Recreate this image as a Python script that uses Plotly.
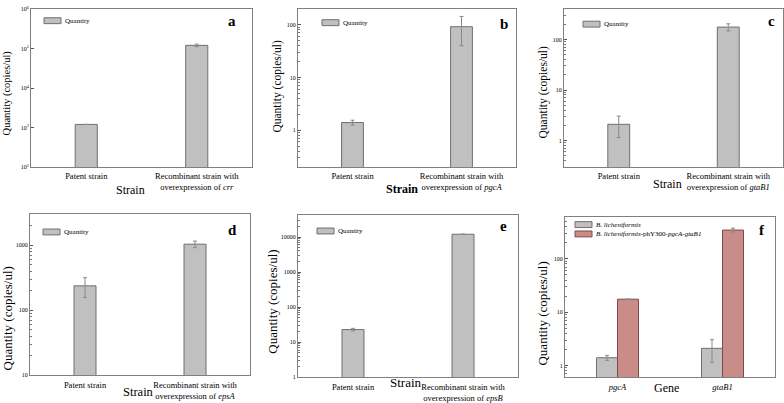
import plotly.graph_objects as go

W, H = 784, 403

# ---------------- data ----------------
strain_keys = ["Patent strain", "Recombinant strain"]
genes_abcde = ["crr", "pgcA", "gtaB1", "epsA", "epsB"]
panel_letters = ["a", "b", "c", "d", "e", "f"]

qty_a = [1200, 120000]
err_a = [0, 9000]
qty_b = [1.4, 92]
err_b = [0.15, 52]
qty_c = [2.1, 175]
err_c = [0.95, 28]
qty_d = [238, 1040]
err_d = [80, 120]
qty_e = [23, 12000]
err_e = [2, 0]

genes_f = ["pgcA", "gtaB1"]
wild_f = [1.4, 2.1]
wild_err_f = [0.15, 0.95]
rec_f = [17.5, 345]
rec_err_f = [0, 30]

# panel a y tick labels (powers of ten)
a_tickvals = [1e2, 1e3, 1e4, 1e5, 1e6]
a_ticktext = ["10<sup>2</sup>", "10<sup>3</sup>", "10<sup>4</sup>", "10<sup>5</sup>", "10<sup>6</sup>"]

series_name = "Quantity"
wild_name = "<i>B. licheniformis</i>"
rec_name = "<i>B. licheniformis</i>-phY300-<i>pgcA</i>-<i>gtaB1</i>"

y_ranges = {  # log10 axis ranges
    "a": [1.999, 6.001], "b": [-0.699, 2.301], "c": [-0.523, 2.602],
    "d": [0.999, 3.477], "e": [-0.001, 4.62], "f": [-0.222, 2.778],
}

# ---------------- layout helpers ----------------
def dom_x(p0, p1):
    return [p0 / W, p1 / W]

def dom_y(p0, p1):
    return [1 - p1 / H, 1 - p0 / H]

def px(x):
    return x / W

def py(y):
    return 1 - y / H

FONT = "Liberation Serif"
GRAY = "#c0c0c0"
GRAY_EDGE = "#6e6e6e"
RED = "#c98c88"
RED_EDGE = "#7a4c49"
FRAME = "#808080"

boxes = {
    "a": (31, 252, 5, 166),
    "b": (298, 516, 5, 166),
    "c": (564, 783, 5, 166),
    "d": (30, 250, 214, 378),
    "e": (298, 518, 215, 380),
    "f": (565, 775, 217, 380),
}

fig = go.Figure()

single = {
    "a": (qty_a, err_a), "b": (qty_b, err_b), "c": (qty_c, err_c),
    "d": (qty_d, err_d), "e": (qty_e, err_e),
}

for i, letter in enumerate(panel_letters):
    n = "" if i == 0 else str(i + 1)
    xa, ya = "x" + n, "y" + n
    if letter in single:
        q, e = single[letter]
        fig.add_trace(go.Bar(
            x=strain_keys, y=q, width=0.2, name=series_name, showlegend=False,
            marker=dict(color=GRAY, line=dict(color=GRAY_EDGE, width=1)),
            error_y=dict(type="data", array=e, color="#8a8a8a", thickness=1, width=2),
            xaxis=xa, yaxis=ya,
        ))
    else:
        fig.add_trace(go.Bar(
            x=genes_f, y=wild_f, name=wild_name, showlegend=False,
            marker=dict(color=GRAY, line=dict(color=GRAY_EDGE, width=1)),
            error_y=dict(type="data", array=wild_err_f, color="#8a8a8a", thickness=1, width=2),
            xaxis=xa, yaxis=ya,
        ))
        fig.add_trace(go.Bar(
            x=genes_f, y=rec_f, name=rec_name, showlegend=False,
            marker=dict(color=RED, line=dict(color=RED_EDGE, width=1)),
            error_y=dict(type="data", array=rec_err_f, color="#8a8a8a", thickness=1, width=2),
            xaxis=xa, yaxis=ya,
        ))

layout = dict(
    width=W, height=H, margin=dict(l=0, r=0, t=0, b=0),
    paper_bgcolor="white", plot_bgcolor="white",
    font=dict(family=FONT, color="black"),
    barmode="group", bargap=0.6, bargroupgap=0,
    showlegend=False,
)

for i, letter in enumerate(panel_letters):
    n = "" if i == 0 else str(i + 1)
    x0, x1, y0, y1 = boxes[letter]
    if letter == "f":
        tickvals = genes_f
        ticktext = ["<i>%s</i>" % g for g in genes_f]
    else:
        tickvals = strain_keys
        ticktext = ["Patent strain",
                    "Recombinant strain with<br>overexpression of <i>%s</i>" % genes_abcde[i]]
    layout["xaxis" + n] = dict(
        domain=dom_x(x0, x1), anchor="y" + n, type="category",
        range=[-0.5, 1.5], tickvals=tickvals, ticktext=ticktext,
        showline=True, mirror=True, linecolor=FRAME, linewidth=1,
        ticks="", showgrid=False, zeroline=False,
        tickfont=dict(size=8.5, family=FONT, color="black"), ticklabelstandoff=1,
    )
    yax = dict(
        domain=dom_y(y0, y1), anchor="x" + n, type="log",
        range=y_ranges[letter],
        showline=True, mirror=True, linecolor=FRAME, linewidth=1,
        ticks="inside", ticklen=3, tickcolor="#555",
        showgrid=False, zeroline=False,
        tickfont=dict(size=6, family=FONT, color="black"),
    )
    if letter == "a":
        yax.update(tickmode="array", tickvals=a_tickvals, ticktext=a_ticktext)
    else:
        yax.update(dtick=1, tickformat="d",
                   minor=dict(ticks="inside", ticklen=1.5, tickcolor="#777", showgrid=False))
    layout["yaxis" + n] = yax

fig.update_layout(**layout)

# ---------------- annotations (titles, panel letters, legends) ----------------
ann = []
shapes = []

def add_text(x, y, text, size, angle=0, bold=False, xanchor="center"):
    ann.append(dict(
        x=px(x), y=py(y), xref="paper", yref="paper", text=("<b>%s</b>" % text) if bold else text,
        showarrow=False, textangle=angle, xanchor=xanchor, yanchor="middle",
        font=dict(family=FONT, size=size, color="black"),
    ))

ytitle = "Quantity (copies/ul)"
# y-axis titles
add_text(7, 91, ytitle, 10.5, angle=-90)
add_text(278, 84, ytitle, 11.5, angle=-90)
add_text(543, 90, ytitle, 11.5, angle=-90)
add_text(7, 320, ytitle, 13, angle=-90)
add_text(273, 303, ytitle, 13, angle=-90)
add_text(543, 315, ytitle, 13, angle=-90)

# x-axis titles
add_text(130, 189, "Strain", 12)
add_text(402, 188, "Strain", 12, bold=True)
add_text(667, 183, "Strain", 12)
add_text(138, 395, "Strain", 12.5)
add_text(406, 385, "Strain", 13)
add_text(666, 391, "Gene", 12)

# panel letters
letter_pos = {"a": (232, 17), "b": (504, 20), "c": (771, 17),
              "d": (232, 230), "e": (503, 226), "f": (762, 230)}
for letter, (lx, ly) in letter_pos.items():
    add_text(lx, ly, letter, 15, bold=True)

# legends (swatch + label)
def legend_item(x, y, label, fill, edge, size=7):
    shapes.append(dict(type="rect", xref="paper", yref="paper",
                       x0=px(x), x1=px(x + 17), y0=py(y + 3), y1=py(y - 3),
                       fillcolor=fill, line=dict(color=edge, width=1)))
    add_text(x + 18.5, y, label, size, xanchor="left")

legend_item(44, 17, series_name, GRAY, GRAY_EDGE)
legend_item(322, 19, series_name, GRAY, GRAY_EDGE)
legend_item(583, 20.5, series_name, GRAY, GRAY_EDGE)
legend_item(43, 232, series_name, GRAY, GRAY_EDGE)
legend_item(317, 231, series_name, GRAY, GRAY_EDGE)
legend_item(575, 224.5, wild_name, GRAY, GRAY_EDGE)
legend_item(575, 234, rec_name, RED, RED_EDGE)

fig.update_layout(annotations=ann, shapes=shapes)

fig.write_html(
    "out.html",
    config={"displayModeBar": False},
    post_script="document.body.style.margin='0';document.body.style.overflow='hidden';",
)
